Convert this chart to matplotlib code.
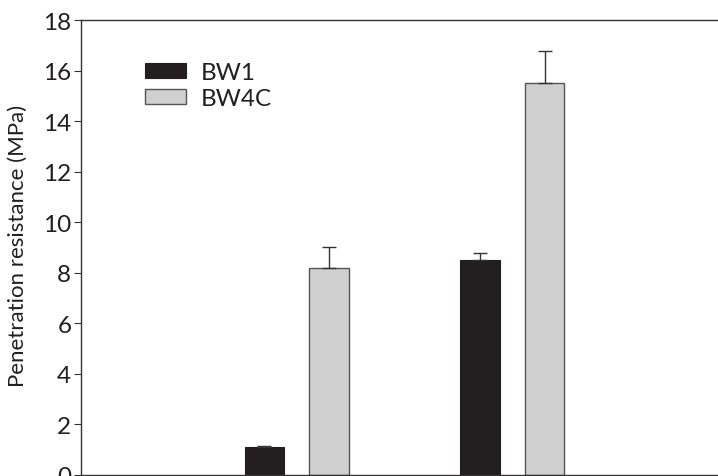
import matplotlib
matplotlib.use("Agg")
import matplotlib.pyplot as plt
import numpy as np

plt.rcParams['font.family'] = ['Lato', 'DejaVu Sans']

groups = ["Group 1", "Group 2"]
series = ["BW1", "BW4C"]
bw1 = [1.1, 8.5]
bw1_err = [0.06, 0.3]
bw4c = [8.2, 15.5]
bw4c_err = [0.82, 1.27]
yticks = [0, 2, 4, 6, 8, 10, 12, 14, 16, 18]

W, H = 718, 477
fig = plt.figure(figsize=(W/100, H/100), dpi=100)
left, right, top, bottom = 81, 728, 21, 476
ax = fig.add_axes([left/W, 1 - bottom/H, (right-left)/W, (bottom-top)/H])

x = np.arange(len(groups))
bw = 0.183
off = 0.1495
spine_c = '#333333'
ax.bar(x - off, bw1, bw, color='#231f20', edgecolor='#231f20', linewidth=0.8,
       yerr=[np.zeros(len(bw1)), bw1_err], error_kw=dict(ecolor=spine_c, elinewidth=1.0, capsize=4.7, capthick=1.0),
       label=series[0], zorder=2)
ax.bar(x + off, bw4c, bw, color='#d0d0d0', edgecolor='#555555', linewidth=1.0,
       yerr=[np.zeros(len(bw4c)), bw4c_err], error_kw=dict(ecolor=spine_c, elinewidth=1.0, capsize=4.7, capthick=1.0),
       label=series[1], zorder=2)

ax.set_xlim(-1, 2)
ax.set_ylim(0, 18)
ax.set_yticks(yticks)
ax.set_xticks([])
ax.tick_params(axis='y', direction='out', length=5, width=0.8, color=spine_c, labelsize=17.5, labelcolor='#231f20', pad=2)
for s in ['left', 'top', 'bottom']:
    ax.spines[s].set_color(spine_c)
    ax.spines[s].set_linewidth(1.0)
ax.spines['right'].set_visible(False)
ax.set_ylabel("Penetration resistance (MPa)", fontsize=16, color='#231f20', labelpad=11)
ax.yaxis.label.set_y(0.505)

leg = ax.legend(loc='upper left', bbox_to_anchor=((145 - left)/(right-left), 1 - (63 - top)/(bottom-top)),
                frameon=False, fontsize=17.5, handlelength=1.7, handleheight=0.55,
                handletextpad=0.6, labelspacing=0.2, borderaxespad=0, borderpad=0)
for t in leg.get_texts():
    t.set_color('#231f20')

fig.savefig("out.png", dpi=100)
